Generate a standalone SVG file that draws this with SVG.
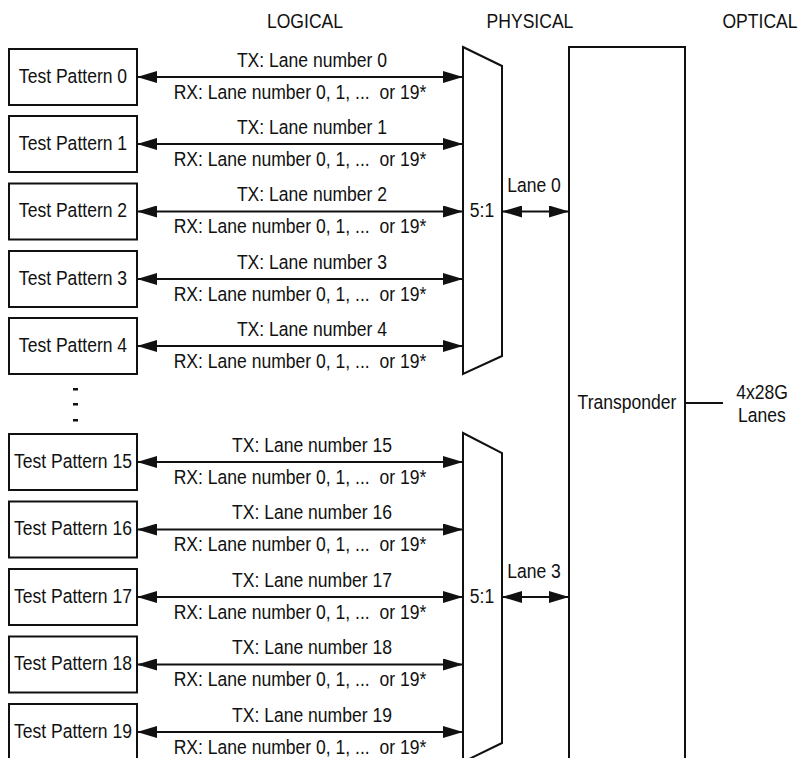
<svg xmlns="http://www.w3.org/2000/svg" width="801" height="758" viewBox="0 0 801 758">
<defs>
<style>
text{font-family:"Liberation Sans",Arial,sans-serif;font-size:19.5px;fill:#111;text-anchor:middle;transform-box:fill-box;transform-origin:center;transform:scaleX(0.9)}
.box{fill:#fff;stroke:#111;stroke-width:2}
.ln{stroke:#111;stroke-width:2;fill:none}
.arr{stroke:#111;stroke-width:2;fill:none;marker-start:url(#ah);marker-end:url(#ah)}
.dot{fill:#111}
</style>
<marker id="ah" markerUnits="userSpaceOnUse" markerWidth="20" markerHeight="12" refX="20" refY="6" orient="auto-start-reverse" viewBox="0 0 20 12">
<path d="M0,0 L20,6 L0,12 z" fill="#111"/>
</marker>
</defs>
<rect width="801" height="758" fill="#fff"/>
<g id="headers">
<text x="305" y="28">LOGICAL</text>
<text x="530" y="28">PHYSICAL</text>
<text x="760" y="28">OPTICAL</text>
</g>
<g id="connectors">
<line class="arr" x1="137" y1="77" x2="463" y2="77"/>
<line class="arr" x1="137" y1="144" x2="463" y2="144"/>
<line class="arr" x1="137" y1="211.5" x2="463" y2="211.5"/>
<line class="arr" x1="137" y1="279" x2="463" y2="279"/>
<line class="arr" x1="137" y1="346" x2="463" y2="346"/>
<line class="arr" x1="137" y1="462" x2="463" y2="462"/>
<line class="arr" x1="137" y1="529.5" x2="463" y2="529.5"/>
<line class="arr" x1="137" y1="597" x2="463" y2="597"/>
<line class="arr" x1="137" y1="664.5" x2="463" y2="664.5"/>
<line class="arr" x1="137" y1="732" x2="463" y2="732"/>
<line class="arr" x1="502" y1="211.5" x2="569" y2="211.5"/>
<line class="arr" x1="502" y1="597" x2="569" y2="597"/>
<line class="ln" x1="685" y1="403" x2="723" y2="403"/>
</g>
<g id="labels">
<text x="312" y="67">TX: Lane number 0</text>
<text x="300" y="99" xml:space="preserve">RX: Lane number 0, 1, ...  or 19*</text>
<text x="312" y="134">TX: Lane number 1</text>
<text x="300" y="166" xml:space="preserve">RX: Lane number 0, 1, ...  or 19*</text>
<text x="312" y="201.5">TX: Lane number 2</text>
<text x="300" y="233.5" xml:space="preserve">RX: Lane number 0, 1, ...  or 19*</text>
<text x="312" y="269">TX: Lane number 3</text>
<text x="300" y="301" xml:space="preserve">RX: Lane number 0, 1, ...  or 19*</text>
<text x="312" y="336">TX: Lane number 4</text>
<text x="300" y="368" xml:space="preserve">RX: Lane number 0, 1, ...  or 19*</text>
<text x="312" y="452">TX: Lane number 15</text>
<text x="300" y="484" xml:space="preserve">RX: Lane number 0, 1, ...  or 19*</text>
<text x="312" y="519.5">TX: Lane number 16</text>
<text x="300" y="551.5" xml:space="preserve">RX: Lane number 0, 1, ...  or 19*</text>
<text x="312" y="587">TX: Lane number 17</text>
<text x="300" y="619" xml:space="preserve">RX: Lane number 0, 1, ...  or 19*</text>
<text x="312" y="654.5">TX: Lane number 18</text>
<text x="300" y="686.5" xml:space="preserve">RX: Lane number 0, 1, ...  or 19*</text>
<text x="312" y="722">TX: Lane number 19</text>
<text x="300" y="754" xml:space="preserve">RX: Lane number 0, 1, ...  or 19*</text>
<text x="534" y="192">Lane 0</text>
<text x="534" y="578">Lane 3</text>
<text x="762" y="399">4x28G</text>
<text x="762" y="422">Lanes</text>
</g>
<g id="tp0"><rect class="box" x="9" y="49" width="128" height="56"/><text x="73" y="83">Test Pattern 0</text></g>
<g id="tp1"><rect class="box" x="9" y="116" width="128" height="56"/><text x="73" y="150">Test Pattern 1</text></g>
<g id="tp2"><rect class="box" x="9" y="183.5" width="128" height="56"/><text x="73" y="217.5">Test Pattern 2</text></g>
<g id="tp3"><rect class="box" x="9" y="251" width="128" height="56"/><text x="73" y="285">Test Pattern 3</text></g>
<g id="tp4"><rect class="box" x="9" y="318" width="128" height="56"/><text x="73" y="352">Test Pattern 4</text></g>
<g id="ellipsis">
<rect class="dot" x="73" y="388" width="5" height="2.5"/>
<rect class="dot" x="73" y="403" width="5" height="2.5"/>
<rect class="dot" x="73" y="419" width="5" height="2.5"/>
</g>
<g id="tp15"><rect class="box" x="9" y="434" width="128" height="56"/><text x="73" y="468">Test Pattern 15</text></g>
<g id="tp16"><rect class="box" x="9" y="501.5" width="128" height="56"/><text x="73" y="535.5">Test Pattern 16</text></g>
<g id="tp17"><rect class="box" x="9" y="569" width="128" height="56"/><text x="73" y="603">Test Pattern 17</text></g>
<g id="tp18"><rect class="box" x="9" y="636.5" width="128" height="56"/><text x="73" y="670.5">Test Pattern 18</text></g>
<g id="tp19"><rect class="box" x="9" y="704" width="128" height="56"/><text x="73" y="738">Test Pattern 19</text></g>
<g id="mux1"><path class="box" d="M463,47 L502,66 L502,356 L463,374 Z"/><text x="482" y="217.5">5:1</text></g>
<g id="mux2"><path class="box" d="M463,433 L502,453 L502,743 L463,762 Z"/><text x="482" y="603">5:1</text></g>
<g id="transponder"><rect class="box" x="569" y="47" width="116" height="720"/><text x="627" y="409">Transponder</text></g>
</svg>
